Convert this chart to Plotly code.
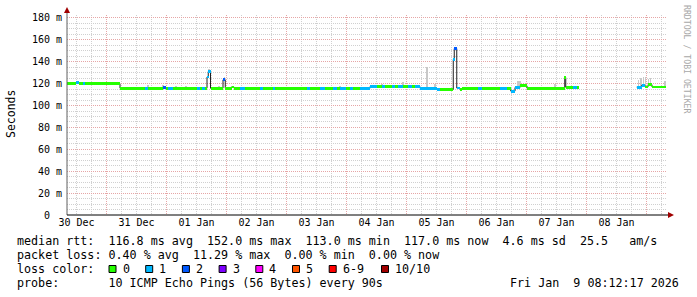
import plotly.graph_objects as go
import pandas as pd

# ---------------- data ----------------
T0 = pd.Timestamp("2025-12-30 08:12:17")
T1 = pd.Timestamp("2026-01-09 08:12:17")

# median RTT step segments: hours after T0, median (ms), lost pings of 10
seg_start = [0.0, 3.6, 4.7, 6.4, 7.2, 21.2, 31.2, 32.4, 38.4, 39.6, 40.4, 42.4, 52.0, 53.2,
             54.0, 55.2, 56.0, 56.5, 57.4, 62.4, 63.3, 65.8, 66.8, 69.2, 71.2, 77.2, 78.4,
             82.4, 83.2, 96.0, 97.2, 101.2, 103.2, 106.4, 108.0, 109.2, 111.6, 113.2, 114.4,
             117.2, 121.2, 124.0, 126.0, 127.2, 130.0, 131.2, 132.4, 134.4, 136.4, 138.0,
             139.2, 141.2, 148.0, 149.2, 154.5, 154.9, 155.9, 157.2, 158.0, 164.4, 166.0,
             173.2, 176.0, 177.5, 179.2, 181.2, 184.0, 199.1, 199.5, 202.4, 204.0,
             227.9, 229.9, 231.2, 232.4, 234.0]
seg_end = [3.6, 4.7, 6.4, 7.2, 21.2, 31.2, 32.4, 38.4, 39.6, 40.4, 42.4, 52.0, 53.2, 54.0,
           55.2, 56.0, 56.5, 57.4, 62.4, 63.3, 65.8, 66.8, 69.2, 71.2, 77.2, 78.4, 82.4,
           83.2, 96.0, 97.2, 101.2, 103.2, 106.4, 108.0, 109.2, 111.6, 113.2, 114.4, 117.2,
           121.2, 124.0, 126.0, 127.2, 130.0, 131.2, 132.4, 134.4, 136.4, 138.0, 139.2,
           141.2, 148.0, 149.2, 154.5, 154.9, 155.9, 157.2, 158.0, 164.4, 166.0, 173.2,
           176.0, 177.5, 179.2, 181.2, 184.0, 199.1, 199.5, 202.4, 204.0, 204.8,
           229.9, 231.2, 232.4, 234.0, 239.6]
seg_median = [120.0, 121.3, 120.2, 120.2, 120.0, 115.8, 115.8, 115.8, 116.8, 115.8, 115.8,
              115.8, 115.8, 115.8, 115.8, 115.8, 126.0, 131.0, 115.8, 123.5, 115.8, 117.0,
              115.8, 115.8, 115.8, 115.8, 115.8, 115.8, 115.8, 115.8, 115.8, 115.8, 115.8,
              115.8, 115.8, 115.8, 115.8, 115.8, 115.8, 115.8, 117.3, 117.3, 117.3, 117.3,
              117.3, 117.3, 117.3, 117.3, 117.3, 117.3, 117.3, 115.8, 114.7, 114.7, 142.0,
              152.0, 116.0, 114.7, 115.8, 115.8, 115.8, 115.8, 115.8, 113.2, 116.5, 118.0,
              115.8, 125.5, 116.8, 116.8, 116.8, 116.8, 118.5, 117.0, 119.0, 117.0]
seg_loss = [0, 1, 0, 1, 0, 0, 1, 0, 2, 0, 1, 0, 1, 0, 1, 0, 1, 1, 0, 2, 0, 0, 0, 1, 0, 1, 0,
            1, 0, 1, 0, 1, 0, 1, 0, 1, 0, 1, 0, 1, 1, 0, 1, 0, 1, 0, 1, 0, 1, 0, 1, 1, 1, 0,
            1, 2, 1, 0, 0, 1, 0, 1, 0, 1, 1, 0, 0, 0, 0, 1, 0, 1, 1, 0, 0, 0]

# smoke (spread of the individual pings): hour after T0, low / high (ms)
smoke_hour = [11.2, 12.0, 12.8, 13.6, 14.4, 18.4, 32.4, 38.4, 43.6, 47.6, 56.8, 60.8, 63.0,
              109.2, 126.0, 134.4, 144.0, 147.2, 180.3, 181.1, 195.2, 199.2, 228.6, 229.6,
              230.6, 231.4, 232.6, 233.4, 239.2]
smoke_low = [120.0, 120.0, 120.0, 120.0, 120.0, 120.0, 115.8, 116.8, 115.8, 115.8, 131.0,
             115.8, 123.5, 115.8, 117.3, 117.3, 115.8, 115.8, 116.5, 116.5, 115.8, 125.5,
             116.8, 116.8, 118.5, 117.0, 119.0, 119.0, 117.0]
smoke_high = [121.6, 121.6, 121.6, 121.6, 121.6, 121.4, 118.5, 118.5, 118.0, 118.0, 133.5,
              117.8, 126.0, 117.8, 120.0, 121.8, 135.5, 120.0, 122.4, 122.4, 120.0, 126.5,
              123.5, 125.0, 126.5, 126.0, 124.5, 125.5, 122.0]

loss_labels = ["0", "1", "2", "3", "4", "5", "6-9", "10/10"]
loss_colors = ["#26ff00", "#00b8ff", "#0059ff", "#7e00ff", "#ff00ff", "#ff5500", "#ff0000", "#a10000"]

y_ticks = [0, 20, 40, 60, 80, 100, 120, 140, 160, 180]
y_ticktext = ["0\u00a0\u00a0"] + [f"{v} m" for v in y_ticks[1:]]
day_labels = ["30 Dec", "31 Dec", "01 Jan", "02 Jan", "03 Jan", "04 Jan", "05 Jan",
              "06 Jan", "07 Jan", "08 Jan"]
day_label_pos = pd.date_range("2025-12-30 12:00", periods=10, freq="D")

legend_lines = [
    "median rtt:  116.8 ms avg  152.0 ms max  113.0 ms min  117.0 ms now  4.6 ms sd  25.5   am/s",
    "packet loss: 0.40 % avg  11.29 % max  0.00 % min  0.00 % now",
    "loss color:",
    "probe:       10 ICMP Echo Pings (56 Bytes) every 90s",
]
stamp = "Fri Jan  9 08:12:17 2026"

# ---------------- helpers ----------------
H = pd.Timedelta(hours=1)
HMS = 3600 * 1000.0
BAND = 1.3  # half thickness of the loss-colour band in ms
FONT = "DejaVu Sans Mono"

L, R, TOP, BOT = 67, 667, 15, 215
def px(x):
    return (x - L) / (R - L)
def py(y):
    return (BOT - y) / (BOT - TOP)

fig = go.Figure()

# smoke
fig.add_trace(go.Bar(
    x=[T0 + h * H for h in smoke_hour],
    y=[hi - lo for lo, hi in zip(smoke_low, smoke_high)],
    base=smoke_low,
    width=[0.3 * HMS] * len(smoke_hour),
    marker=dict(color="#c8c8c8", line=dict(width=0)),
    hoverinfo="skip", showlegend=False))

# thin median line (stepped)
lx, ly = [], []
prev_end = None
for s, e, v in zip(seg_start, seg_end, seg_median):
    if prev_end is not None and abs(s - prev_end) > 1e-6:
        lx.append(T0 + prev_end * H); ly.append(ly[-1])
        lx.append(None); ly.append(None)
    lx.append(T0 + s * H); ly.append(v)
    prev_end = e
lx.append(T0 + prev_end * H); ly.append(ly[-1])
fig.add_trace(go.Scatter(x=lx, y=ly, mode="lines", line=dict(color="#202020", width=1, shape="hv"),
                         connectgaps=False, hoverinfo="skip", showlegend=False))

# loss-coloured band (on the overlay subplot so it sits above the median line)
fig.add_trace(go.Bar(
    x=[T0 + (s + e) / 2 * H for s, e in zip(seg_start, seg_end)],
    y=[2 * BAND] * len(seg_start),
    base=[v - BAND for v in seg_median],
    width=[(e - s) * HMS for s, e in zip(seg_start, seg_end)],
    marker=dict(color=[loss_colors[l] for l in seg_loss], line=dict(width=0)),
    xaxis="x2", yaxis="y",
    hoverinfo="skip", showlegend=False))

minor_gray = "#d0d0d0"
major_red = "#e6a6a6"

fig.update_layout(
    width=697, height=297,
    margin=dict(l=L, r=697 - R, t=TOP, b=297 - BOT),
    paper_bgcolor="white", plot_bgcolor="white",
    barmode="overlay", bargap=0,
    font=dict(family=FONT, size=10, color="black"),
    xaxis=dict(type="date", range=[T0, T1], tickmode="linear",
               tick0="2025-12-31 00:00", dtick=86400000,
               showticklabels=False, ticks="",
               showgrid=True, gridcolor=major_red, griddash="1px,1px", gridwidth=1,
               minor=dict(tick0="2025-12-30 00:00", dtick=21600000, showgrid=True,
                          gridcolor=minor_gray, griddash="1px,1px", gridwidth=1),
               showline=False, zeroline=False),
    xaxis2=dict(type="date", range=[T0, T1], overlaying="x", side="bottom", anchor="y",
                tickmode="array", tickvals=list(day_label_pos), ticktext=day_labels,
                showgrid=False, showline=False, zeroline=False, ticks="",
                tickfont=dict(family=FONT, size=10, color="black")),
    yaxis=dict(range=[0, 182.7], tickmode="array", tickvals=y_ticks, ticktext=y_ticktext,
               showgrid=True, gridcolor=major_red, griddash="1px,1px", gridwidth=1,
               minor=dict(tick0=0, dtick=5, showgrid=True, gridcolor=minor_gray,
                          griddash="1px,1px", gridwidth=1),
               ticks="", ticklabelstandoff=4, zeroline=False, showline=False,
               tickfont=dict(family=FONT, size=10, color="black")),
)

shapes = [
    # left axis with arrow
    dict(type="line", xref="paper", yref="paper", x0=0, x1=0, y0=0, y1=py(10),
         line=dict(color="#606060", width=1)),
    dict(type="path", xref="paper", yref="paper",
         path=f"M {px(64)} {py(13)} L {px(70)} {py(13)} L {px(67)} {py(7)} Z",
         fillcolor="#a00000", line=dict(width=0)),
    # bottom axis with arrow
    dict(type="line", xref="paper", yref="paper", x0=0, x1=px(670), y0=0, y1=0,
         line=dict(color="black", width=1)),
    dict(type="path", xref="paper", yref="paper",
         path=f"M {px(668)} {py(212)} L {px(668)} {py(218)} L {px(674)} {py(215)} Z",
         fillcolor="#a00000", line=dict(width=0)),
]

annotations = []
legend_y = [241, 255, 269, 283]
for txt, yy in zip(legend_lines, legend_y):
    annotations.append(dict(text=txt.replace(" ", "\u00a0"), xref="paper", yref="paper",
                            x=px(15), y=py(yy), xanchor="left", yanchor="middle",
                            showarrow=False, font=dict(family=FONT, size=11.7, color="black")))
annotations.append(dict(text=stamp.replace(" ", "\u00a0"), xref="paper", yref="paper",
                        x=px(681), y=py(283), xanchor="right", yanchor="middle",
                        showarrow=False, font=dict(family=FONT, size=11.7, color="black")))

box_left = [109, 145.7, 182.4, 219.1, 255.8, 292.5, 329.2, 381.5]
for bl, lab, col in zip(box_left, loss_labels, loss_colors):
    shapes.append(dict(type="rect", xref="paper", yref="paper",
                       x0=px(bl), x1=px(bl + 7), y0=py(272.5), y1=py(265.5),
                       fillcolor=col, line=dict(color="black", width=1)))
    annotations.append(dict(text=lab, xref="paper", yref="paper", x=px(bl + 11.5), y=py(269),
                            xanchor="left", yanchor="middle", showarrow=False,
                            font=dict(family=FONT, size=11.7, color="black")))

annotations.append(dict(text="Seconds", xref="paper", yref="paper", x=px(11), y=py(114),
                        xanchor="center", yanchor="middle", textangle=-90, showarrow=False,
                        font=dict(family=FONT, size=11.5, color="black")))
annotations.append(dict(text="RRDTOOL / TOBI OETIKER".replace(" ", "\u00a0"), xref="paper",
                        yref="paper", x=px(687), y=py(59), xanchor="center", yanchor="middle",
                        textangle=90, showarrow=False,
                        font=dict(family=FONT, size=8.2, color="#a8a8a8")))

fig.update_layout(shapes=shapes, annotations=annotations)
fig.write_html("out.html")
